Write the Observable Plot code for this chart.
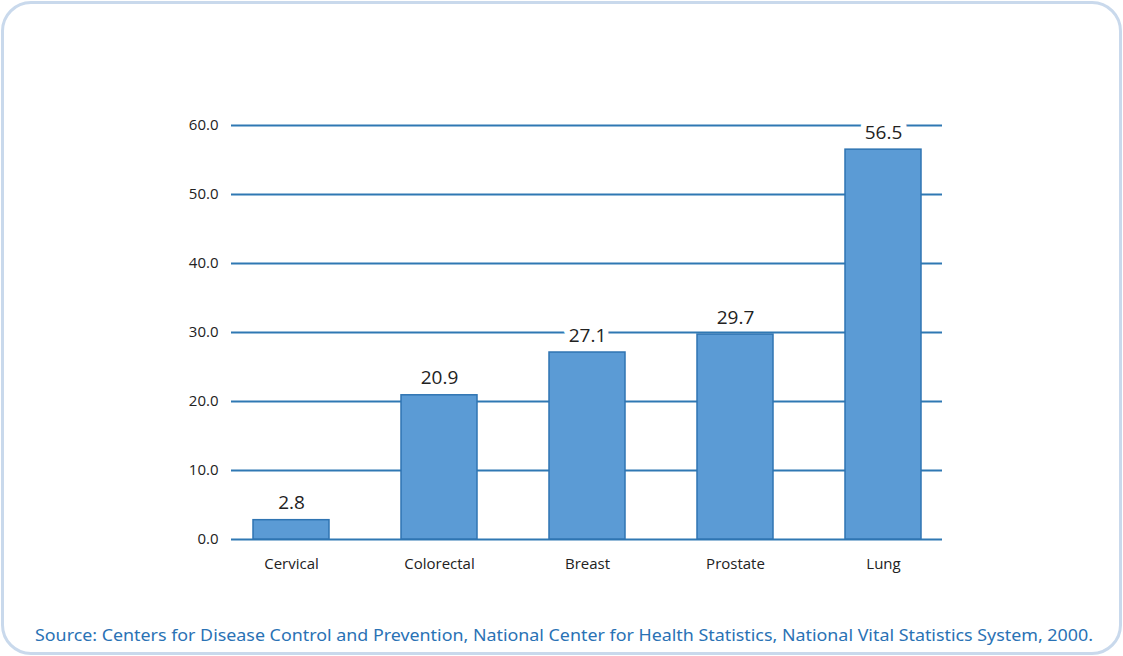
<!DOCTYPE html>
<html>
<head>
<meta charset="utf-8">
<script src="https://cdn.jsdelivr.net/npm/d3@7"></script>
<script src="https://cdn.jsdelivr.net/npm/@observablehq/plot@0.6"></script>
<style>
  html, body { margin: 0; padding: 0; background: #fff; }
  body { width: 1123px; height: 656px; position: relative; overflow: hidden; }
  #frame { position: absolute; left: 1px; top: 1px; width: 1115px; height: 648px;
           border: 3px solid #c9d9ec; border-radius: 30px; box-sizing: content-box; }
  #chart { position: absolute; left: 0; top: 0; }
  #caption { position: absolute; left: 0; top: 618px; }
</style>
</head>
<body>
<div id="frame"></div>
<div id="chart"></div>
<svg id="caption" width="1123" height="34">
  <text x="35" y="23" textLength="1058" lengthAdjust="spacingAndGlyphs"
        font-family="'Noto Sans', sans-serif" font-size="16" fill="#2a72b5">Source: Centers for Disease Control and Prevention, National Center for Health Statistics, National Vital Statistics System, 2000.</text>
</svg>
<script>
const categories = ["Cervical", "Colorectal", "Breast", "Prostate", "Lung"];
const values = [2.8, 20.9, 27.1, 29.7, 56.5];
const yTicks = [0, 10, 20, 30, 40, 50, 60];

const data = categories.map((c, i) => ({category: c, value: values[i]}));

const chart = Plot.plot({
  width: 1123,
  height: 600,
  marginLeft: 231,
  marginRight: 181,
  marginTop: 125,
  marginBottom: 61,
  style: {fontFamily: "'Open Sans', sans-serif", color: "#222", background: "transparent"},
  x: {domain: categories, paddingInner: 0.488, paddingOuter: 0.138, label: null},
  y: {domain: [0, 60], ticks: yTicks, label: null},
  marks: [
    Plot.ruleY(yTicks, {stroke: "#2f78b3", strokeWidth: 2}),
    Plot.text(data, {x: "category", y: "value", text: d => d.value.toFixed(1), dy: -17,
      fontSize: 19, fill: "#222", stroke: "white", strokeWidth: 12, paintOrder: "stroke"}),
    Plot.barY(data, {x: "category", y: "value", fill: "#5b9bd5", stroke: "#2f74b2", strokeWidth: 1.5}),
    Plot.axisY(yTicks, {tickSize: 0, tickPadding: 13, fontSize: 15, fontWeight: 500, tickFormat: d => d.toFixed(1)}),
    Plot.axisX({tickSize: 0, tickPadding: 19, fontSize: 15, fontWeight: 500})
  ]
});
document.getElementById("chart").appendChild(chart);
</script>
</body>
</html>
